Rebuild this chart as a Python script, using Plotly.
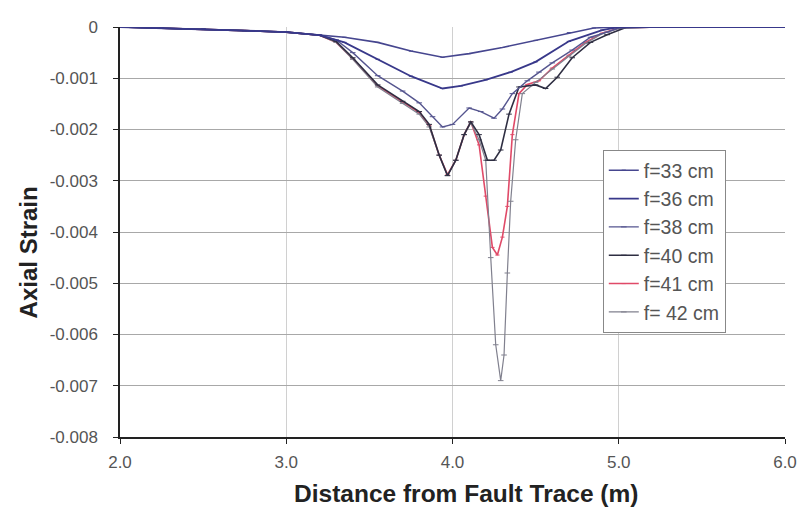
import plotly.graph_objects as go

# ---- data ----
x33 = [2.0, 2.25, 2.5, 2.75, 3.0, 3.2, 3.35, 3.55, 3.75, 3.94, 4.1, 4.3, 4.5, 4.7, 4.85, 5.0, 5.25, 5.5, 5.75, 6.0]
y33 = [0, -0.00002, -0.00004, -0.00007, -0.0001, -0.00015, -0.0002, -0.0003, -0.00047, -0.00059, -0.00052,
       -0.0004, -0.00026, -0.00011, -0.00002, 0, 0, 0, 0, 0]

x36 = [2.0, 2.25, 2.5, 2.75, 3.0, 3.2, 3.35, 3.55, 3.75, 3.94, 4.05, 4.2, 4.35, 4.5, 4.7, 4.9, 5.0, 5.25, 5.5, 5.75, 6.0]
y36 = [0, -0.00002, -0.00004, -0.00007, -0.0001, -0.00016, -0.0003, -0.00063, -0.00096, -0.0012, -0.00115,
       -0.00103, -0.00088, -0.00068, -0.00028, -0.00006, 0, 0, 0, 0, 0]

x38 = [2.0, 2.25, 2.5, 2.75, 3.0, 3.2, 3.3, 3.4, 3.55, 3.7, 3.8, 3.88, 3.94, 4.0, 4.1, 4.17, 4.25, 4.3, 4.36,
       4.45, 4.52, 4.6, 4.72, 4.83, 4.93, 5.0, 5.25, 5.5, 5.75, 6.0]
y38 = [0, -0.00002, -0.00004, -0.00007, -0.0001, -0.00016, -0.00025, -0.0005, -0.00095, -0.00125, -0.00148,
       -0.00175, -0.00195, -0.0019, -0.00158, -0.00165, -0.00178, -0.0016, -0.0013, -0.00105, -0.00088,
       -0.0007, -0.00045, -0.0002, -0.0001, -0.00002, 0, 0, 0, 0]

x40 = [2.0, 2.25, 2.5, 2.75, 3.0, 3.2, 3.3, 3.4, 3.55, 3.7, 3.8, 3.86, 3.92, 3.97, 4.02, 4.07, 4.11, 4.16,
       4.21, 4.25, 4.29, 4.34, 4.4, 4.5, 4.56, 4.63, 4.72, 4.83, 4.93, 5.05, 5.25, 5.5, 5.75, 6.0]
y40 = [0, -0.00002, -0.00004, -0.00007, -0.0001, -0.00016, -0.00028, -0.0006, -0.00113, -0.00145, -0.00165,
       -0.0019, -0.0025, -0.0029, -0.0026, -0.0021, -0.00185, -0.0021, -0.0026, -0.0026, -0.0024, -0.0017,
       -0.00117, -0.00113, -0.0012, -0.00098, -0.0006, -0.0003, -0.00015, 0, 0, 0, 0, 0]

x41 = [2.0, 2.25, 2.5, 2.75, 3.0, 3.2, 3.3, 3.4, 3.55, 3.7, 3.8, 3.86, 3.92, 3.97, 4.02, 4.07, 4.11, 4.16,
       4.2, 4.24, 4.27, 4.3, 4.33, 4.36, 4.4, 4.45, 4.52, 4.6, 4.7, 4.8, 4.9, 5.0, 5.25, 5.5, 5.75, 6.0]
y41 = [0, -0.00002, -0.00004, -0.00007, -0.0001, -0.00016, -0.0003, -0.00062, -0.00115, -0.00147, -0.00167,
       -0.00192, -0.0025, -0.00288, -0.0026, -0.0021, -0.00185, -0.0023, -0.0033, -0.0043, -0.00445, -0.0041,
       -0.0035, -0.0021, -0.0013, -0.00112, -0.00105, -0.0008, -0.00055, -0.0003, -0.00012, -0.00002,
       0, 0, 0, 0]

x42 = [2.0, 2.25, 2.5, 2.75, 3.0, 3.2, 3.3, 3.4, 3.55, 3.7, 3.8, 3.86, 3.92, 3.97, 4.02, 4.07, 4.11, 4.16,
       4.2, 4.23, 4.26, 4.29, 4.31, 4.33, 4.35, 4.38, 4.42, 4.5, 4.6, 4.7, 4.8, 4.9, 5.0, 5.25, 5.5, 5.75, 6.0]
y42 = [0, -0.00002, -0.00004, -0.00007, -0.0001, -0.00016, -0.0003, -0.00063, -0.00117, -0.00149, -0.0017,
       -0.00195, -0.0025, -0.0029, -0.0026, -0.0021, -0.00187, -0.0022, -0.0026, -0.0045, -0.0062, -0.0069,
       -0.0064, -0.0048, -0.0034, -0.0022, -0.0013, -0.00108, -0.00082, -0.00057, -0.00032, -0.00013,
       -0.00003, 0, 0, 0, 0]

series_names = ["f=33 cm", "f=36 cm", "f=38 cm", "f=40 cm", "f=41 cm", "f= 42 cm"]

y_tickvals = [0, -0.001, -0.002, -0.003, -0.004, -0.005, -0.006, -0.007, -0.008]
y_ticktext = ["0", "-0.001", "-0.002", "-0.003", "-0.004", "-0.005", "-0.006", "-0.007", "-0.008"]
x_tickvals = [2.0, 3.0, 4.0, 5.0, 6.0]
x_ticktext = ["2.0", "3.0", "4.0", "5.0", "6.0"]

x_title = "Distance from Fault Trace (m)"
y_title = "Axial Strain"

# ---- figure ----
fig = go.Figure()

traces = [
    # (x, y, name index, colour, width, marker size, legend rank) - drawn bottom to top
    (x41, y41, 4, "#e04a68", 1.6, 3, 5),
    (x42, y42, 5, "#80808e", 1.2, 4, 6),
    (x40, y40, 3, "#2e2e42", 1.6, 4, 4),
    (x38, y38, 2, "#55558f", 1.4, 4, 3),
    (x33, y33, 0, "#46468f", 1.6, 3, 1),
    (x36, y36, 1, "#38388a", 1.8, 3, 2),
]

for xs, ys, idx, col, w, ms, rank in traces:
    fig.add_trace(go.Scatter(
        x=xs, y=ys, name=series_names[idx], mode="lines+markers",
        line=dict(color=col, width=w),
        marker=dict(color=col, size=ms, symbol="line-ew-open", line=dict(color=col, width=1)),
        legendrank=rank, legendgroup=series_names[idx],
    ))

font_family = "Liberation Sans, Arial, sans-serif"

fig.update_layout(
    width=801, height=510,
    paper_bgcolor="white", plot_bgcolor="white",
    margin=dict(l=120, r=16, t=27, b=73),
    font=dict(family=font_family, size=14, color="#333"),
    showlegend=True,
    legend=dict(
        x=0.726, y=0.70, xanchor="left", yanchor="top",
        bgcolor="white", bordercolor="#888", borderwidth=1,
        font=dict(size=19.5, color="#555"),
        tracegroupgap=0, itemwidth=30,
    ),
    xaxis=dict(
        range=[2.0, 6.0], tickvals=x_tickvals, ticktext=x_ticktext,
        showgrid=True, gridcolor="#d0d0d0", gridwidth=1,
        showline=True, linecolor="#222", linewidth=1.5,
        ticks="outside", ticklen=5, tickcolor="#222",
        zeroline=False, automargin=False, ticklabelstandoff=4,
        tickfont=dict(size=17, color="#555"),
    ),
    yaxis=dict(
        range=[-0.008, 0], tickvals=y_tickvals, ticktext=y_ticktext,
        showgrid=True, gridcolor="#a8a8a8", gridwidth=1,
        showline=True, linecolor="#222", linewidth=1.5,
        ticks="outside", ticklen=5, tickcolor="#222",
        zeroline=False, automargin=False, ticklabelstandoff=12,
        tickfont=dict(size=17, color="#555"),
    ),
    annotations=[
        dict(text="<b>" + x_title + "</b>", xref="paper", yref="paper",
             x=0.52, y=-0.137, xanchor="center", yanchor="middle", showarrow=False,
             font=dict(size=24.5, color="#222")),
        dict(text="<b>" + y_title + "</b>", xref="paper", yref="paper",
             x=-0.137, y=0.45, xanchor="center", yanchor="middle", showarrow=False, textangle=-90,
             font=dict(size=24, color="#222")),
    ],
)

# remove the default page margin so the 801x510 figure fills the window exactly
fig.write_html(
    "out.html",
    config={"displayModeBar": False},
    post_script="document.body.style.margin='0';document.body.style.overflow='hidden';",
)
